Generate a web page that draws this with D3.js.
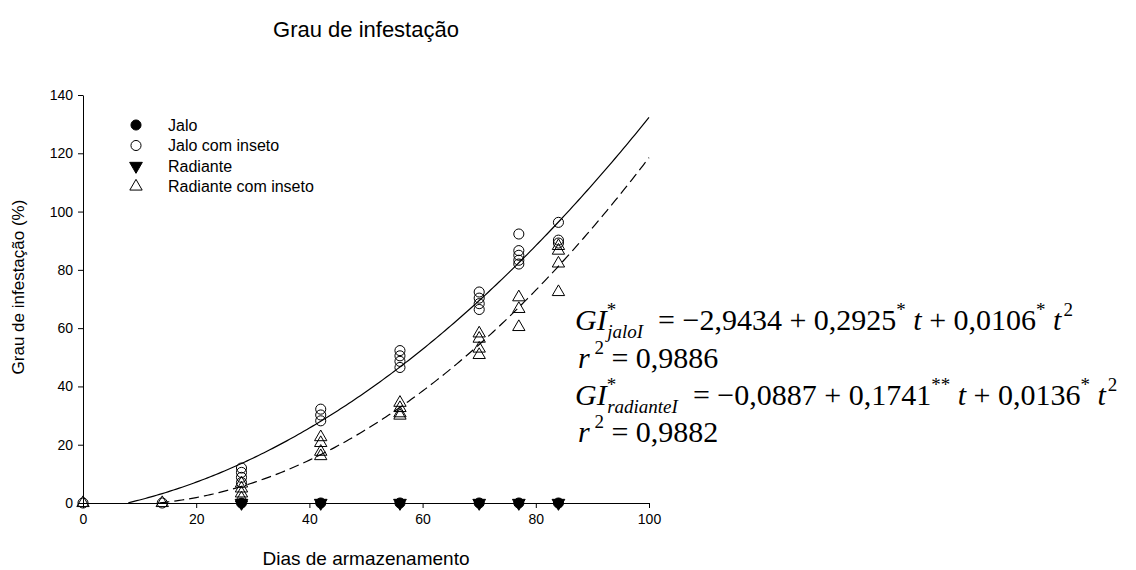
<!DOCTYPE html>
<html>
<head>
<meta charset="utf-8">
<script src="https://cdn.jsdelivr.net/npm/d3@7"></script>
<style>
  body { margin: 0; background: #fff; }
  svg { display: block; }
  text { font-family: Arial, "Liberation Sans", sans-serif; fill: #000; }
  .eq text { font-family: "Times New Roman", "Liberation Serif", serif; }
</style>
</head>
<body>
<script>
// storage days and infestation readings (%)
const dias = [0, 14, 28, 42, 56, 70, 77, 84];

const jalo = [[28, 0], [42, 0], [56, 0], [70, 0], [77, 0], [84, 0]];
const radiante = [[28, 0], [42, 0], [56, 0], [70, 0], [77, 0], [84, 0]];

const jaloInseto = [
  [0, 0], [14, 0],
  [28, 12], [28, 10.5], [28, 8.8], [28, 7],
  [42, 32.2], [42, 30.2], [42, 28.2],
  [56, 52.3], [56, 50.5], [56, 48.6], [56, 46.5],
  [70, 72.4], [70, 70.3], [70, 68.4], [70, 66.4],
  [77, 92.3], [77, 86.6], [77, 85], [77, 83.3], [77, 82],
  [84, 96.3], [84, 90.2], [84, 89.2]
];
const radianteInseto = [
  [0, 0], [14, 0],
  [28, 6.7], [28, 5], [28, 3.3], [28, 1.6],
  [42, 22.6], [42, 20.6], [42, 17.6], [42, 16.1],
  [56, 34.4], [56, 32.6], [56, 30.8], [56, 30],
  [70, 58.2], [70, 56.4], [70, 53], [70, 50.8],
  [77, 70.6], [77, 66.6], [77, 60.4],
  [84, 88.2], [84, 86.6], [84, 82.2], [84, 72.4]
];

// fitted quadratics a + b t + c t^2 (as drawn)
const fitJaloI = [-2.9434, 0.2925, 0.0106];
const fitRadianteI = [-0.0887, -0.1741, 0.0136];

const xTicks = [0, 20, 40, 60, 80, 100];
const yTicks = [0, 20, 40, 60, 80, 100, 120, 140];
const legendNames = ["Jalo", "Jalo com inseto", "Radiante", "Radiante com inseto"];

const W = 1136, H = 570;
const margin = { top: 95, right: 487, bottom: 67, left: 83 },
    width = W - margin.left - margin.right,
    height = H - margin.top - margin.bottom;

const svg = d3.select("body").append("svg")
    .attr("width", W)
    .attr("height", H);

const g = svg.append("g")
    .attr("transform", `translate(${margin.left},${margin.top})`);

const x = d3.scaleLinear().domain([0, 100]).range([0, width]);
const y = d3.scaleLinear().domain([0, 140]).range([height, 0]);

// axes
const xAxis = g.append("g")
    .attr("transform", `translate(0,${height})`)
    .call(d3.axisBottom(x).tickValues(xTicks).tickSize(5).tickPadding(6).tickSizeOuter(0));
const yAxis = g.append("g")
    .call(d3.axisLeft(y).tickValues(yTicks).tickSize(5).tickPadding(5).tickSizeOuter(0));

[xAxis, yAxis].forEach(a => {
  a.select(".domain").attr("stroke", "#000");
  a.selectAll(".tick line").attr("stroke", "#000");
  a.selectAll(".tick text")
      .style("font-family", "Arial, 'Liberation Sans', sans-serif")
      .style("font-size", "14px")
      .attr("fill", "#000");
});

// fitted curves
function curvePts(c) {
  const pts = [];
  for (let t = 0; t <= 100; t += 0.5) {
    const v = c[0] + c[1] * t + c[2] * t * t;
    if (v >= 0) pts.push([t, v]);
  }
  return pts;
}
const line = d3.line().x(d => x(d[0])).y(d => y(d[1]));

g.append("path")
    .datum(curvePts(fitJaloI))
    .attr("fill", "none")
    .attr("stroke", "#000")
    .attr("stroke-width", 1.2)
    .attr("d", line);

g.append("path")
    .datum(curvePts(fitRadianteI))
    .attr("fill", "none")
    .attr("stroke", "#000")
    .attr("stroke-width", 1.2)
    .attr("stroke-dasharray", "10,5")
    .attr("d", line);

// markers
const symCircle = d3.symbol().type(d3.symbolCircle).size(80);
const symTri = d3.symbol().type(d3.symbolTriangle).size(66);
const symTriDown = d3.symbol().type(d3.symbolTriangle).size(70);

function drawPts(data, sym, filled, rot) {
  g.append("g").selectAll("path")
    .data(data)
    .join("path")
    .attr("d", sym)
    .attr("transform", d => `translate(${x(d[0])},${y(d[1])})` + (rot ? " rotate(180)" : ""))
    .attr("fill", filled ? "#000" : "none")
    .attr("stroke", "#000")
    .attr("stroke-width", 1);
}
drawPts(jalo, symCircle, true, false);
drawPts(radiante, symTriDown, true, true);
drawPts(jaloInseto, symCircle, false, false);
drawPts(radianteInseto, symTri, false, false);

// legend
const legendSyms = [
  { sym: symCircle, filled: true, rot: false },
  { sym: symCircle, filled: false, rot: false },
  { sym: symTriDown, filled: true, rot: true },
  { sym: symTri, filled: false, rot: false }
];
const legend = svg.append("g").attr("transform", "translate(136,125)");
legendNames.forEach((name, i) => {
  const row = legend.append("g").attr("transform", `translate(0,${i * 20.5})`);
  const s = legendSyms[i];
  row.append("path")
      .attr("d", s.sym)
      .attr("transform", s.rot ? "rotate(180)" : null)
      .attr("fill", s.filled ? "#000" : "none")
      .attr("stroke", "#000");
  row.append("text")
      .attr("x", 32)
      .attr("dy", "0.35em")
      .style("font-size", "16px")
      .text(name);
});

// titles
svg.append("text")
    .attr("x", margin.left + width / 2)
    .attr("y", 37)
    .attr("text-anchor", "middle")
    .style("font-size", "22px")
    .text("Grau de infestação");

svg.append("text")
    .attr("x", margin.left + width / 2)
    .attr("y", 565)
    .attr("text-anchor", "middle")
    .style("font-size", "19px")
    .text("Dias de armazenamento");

svg.append("text")
    .attr("transform", "rotate(-90)")
    .attr("x", -287)
    .attr("y", 24)
    .attr("text-anchor", "middle")
    .style("font-size", "17px")
    .text("Grau de infestação (%)");

// regression equations
const eq = svg.append("g").attr("class", "eq");
const big = 30, small = 19;

function eqLine(xp, yp, parts) {
  const t = eq.append("text")
      .attr("x", xp).attr("y", yp)
      .style("white-space", "pre")
      .style("font-size", big + "px");
  parts.forEach(p => {
    const ts = t.append("tspan").text(p.s);
    if (p.it) ts.style("font-style", "italic");
    if (p.sz) ts.style("font-size", p.sz + "px");
    if (p.dx) ts.attr("dx", p.dx);
    if (p.dy) ts.attr("dy", p.dy);
  });
}

eqLine(575, 330, [
  { s: "GI", it: true },
  { s: "*", sz: small, dy: -14 },
  { s: "jaloI", it: true, sz: small, dy: 22, dx: -9 },
  { s: "  = −2,9434 + 0,2925", dy: -8 },
  { s: "*", sz: small, dy: -14 },
  { s: " t", it: true, dy: 14 },
  { s: " + 0,0106" },
  { s: "*", sz: small, dy: -14 },
  { s: " t", it: true, dy: 14 },
  { s: "2", sz: small, dy: -14, dx: 2 }
]);
eqLine(578, 368, [
  { s: "r", it: true },
  { s: " 2", sz: small, dy: -14 },
  { s: " = 0,9886", dy: 14 }
]);
eqLine(575, 405, [
  { s: "GI", it: true },
  { s: "*", sz: small, dy: -14 },
  { s: "radianteI", it: true, sz: small, dy: 22, dx: -9 },
  { s: "  = −0,0887 + 0,1741", dy: -8 },
  { s: "**", sz: small, dy: -14 },
  { s: " t", it: true, dy: 14 },
  { s: " + 0,0136" },
  { s: "*", sz: small, dy: -14 },
  { s: " t", it: true, dy: 14 },
  { s: "2", sz: small, dy: -14, dx: 2 }
]);
eqLine(578, 442, [
  { s: "r", it: true },
  { s: " 2", sz: small, dy: -14 },
  { s: " = 0,9882", dy: 14 }
]);
</script>
</body>
</html>
